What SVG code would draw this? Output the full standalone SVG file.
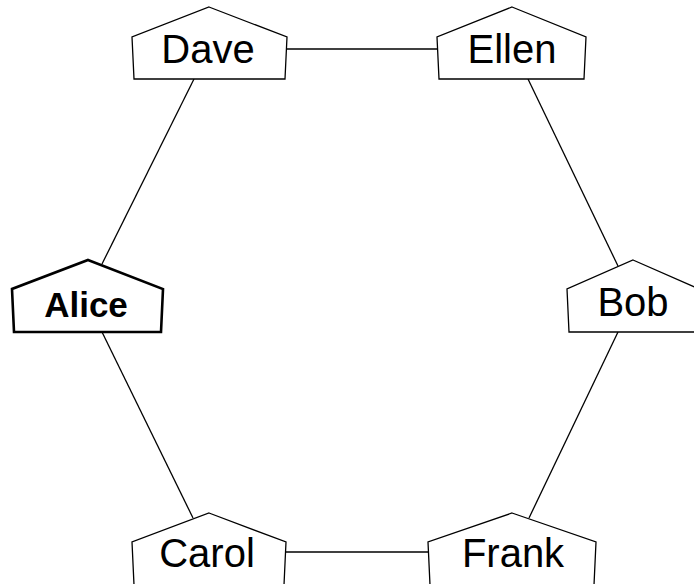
<svg xmlns="http://www.w3.org/2000/svg" width="694" height="584" viewBox="0 0 694 584">
<style>
.n{fill:#fff;stroke:#000;stroke-width:1.3;stroke-linejoin:miter}
.b{fill:#fff;stroke:#000;stroke-width:2.6}
.t{font-family:"Liberation Sans",Arial,sans-serif;font-size:40px;text-anchor:middle;fill:#000}
.tb{font-family:"Liberation Sans",Arial,sans-serif;font-size:35px;font-weight:bold;text-anchor:middle;fill:#000}
.e{stroke:#000;stroke-width:1.3;fill:none}
</style>
<rect width="694" height="584" fill="#fff"/>
<g id="edges">
<line class="e" x1="287" y1="49" x2="437" y2="49"/>
<line class="e" x1="286" y1="552" x2="428" y2="552"/>
<line class="e" x1="102" y1="264" x2="194" y2="79"/>
<line class="e" x1="102" y1="332" x2="193" y2="518"/>
<line class="e" x1="528" y1="79" x2="618" y2="266"/>
<line class="e" x1="618" y1="332" x2="529" y2="518"/>
</g>
<g id="Dave">
<polygon class="n" points="209,7 287,37 285,79 134,79 132,37"/>
<text class="t" x="208" y="63">Dave</text>
</g>
<g id="Ellen">
<polygon class="n" points="512,7 586,37 584,79 439,79 437,37"/>
<text class="t" x="512" y="63">Ellen</text>
</g>
<g id="Alice">
<polygon class="b" points="88,260 163,289 161,332 14,332 12,289"/>
<text class="tb" x="86" y="317">Alice</text>
</g>
<g id="Bob">
<polygon class="n" points="633,260 699,289 697,332 569,332 567,289"/>
<text class="t" x="633" y="316">Bob</text>
</g>
<g id="Carol">
<polygon class="n" points="209,513 286,542 284,585 134,585 132,542"/>
<text class="t" x="207" y="567">Carol</text>
</g>
<g id="Frank">
<polygon class="n" points="512,513 596,542 594,585 430,585 428,542"/>
<text class="t" x="513" y="567">Frank</text>
</g>
</svg>
